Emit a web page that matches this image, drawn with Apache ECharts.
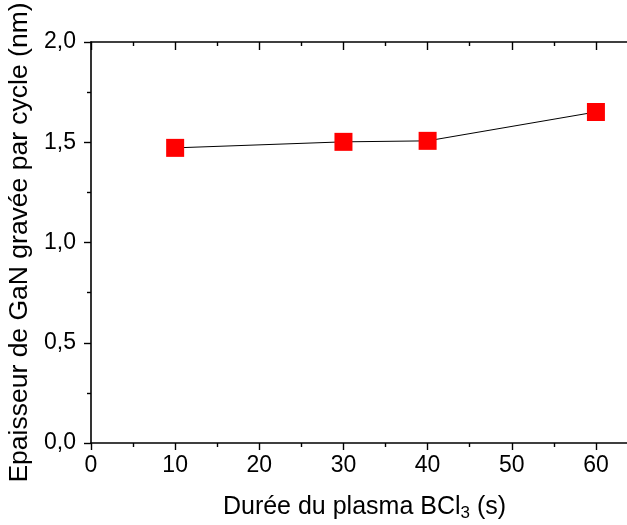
<!DOCTYPE html>
<html><head><meta charset="utf-8">
<script src="https://cdn.jsdelivr.net/npm/echarts@6/dist/echarts.min.js"></script>
<style>html,body{margin:0;padding:0;background:#fff}#c{width:627px;height:525px}</style>
</head><body><div id="c"></div>
<script>
const durations = [10, 30, 40, 60];
const thickness = [1.472, 1.502, 1.507, 1.651];
const xTicks = [0, 10, 20, 30, 40, 50, 60];
const yTicks = ['0,0', '0,5', '1,0', '1,5', '2,0'];

const chart = echarts.init(document.getElementById('c'), null, {renderer: 'canvas'});
const font = 'Liberation Sans, Arial, sans-serif';
const axisLine = {show: true, lineStyle: {color: '#000', width: 1.6}};
chart.setOption({
  animation: false,
  backgroundColor: '#fff',
  grid: {left: 91, width: 547, top: 42, height: 401, containLabel: false, outerBoundsMode: 'none'},
  xAxis: [{
    type: 'value', min: 0, max: 65, interval: 10, position: 'bottom',
    axisLine: axisLine,
    axisTick: {show: true, inside: false, length: 7, lineStyle: {color: '#000', width: 1.4}},
    minorTick: {show: true, splitNumber: 2, length: 4, lineStyle: {color: '#000', width: 1.4}},
    splitLine: {show: false},
    axisLabel: {color: '#000', fontSize: 23, fontFamily: font, margin: 11,
      formatter: v => xTicks.includes(v) ? String(v) : ''},
    name: 'Durée du plasma BCl{sub|3} (s)',
    nameLocation: 'middle', nameGap: 50,
    nameTextStyle: {color: '#000', fontSize: 25, fontFamily: font,
      rich: {sub: {fontSize: 17, fontFamily: font, color: '#000', padding: [12, 0, 0, 0]}}}
  }, {
    type: 'value', min: 0, max: 65, interval: 10, position: 'top',
    axisLine: axisLine,
    axisTick: {show: true, inside: true, length: 8, lineStyle: {color: '#000', width: 1.4}},
    minorTick: {show: true, splitNumber: 2, length: 4, lineStyle: {color: '#000', width: 1.4}},
    splitLine: {show: false},
    axisLabel: {show: false}
  }],
  yAxis: [{
    type: 'value', min: 0, max: 2, interval: 0.5, position: 'left',
    axisLine: axisLine,
    axisTick: {show: true, inside: false, length: 7, lineStyle: {color: '#000', width: 1.4}},
    minorTick: {show: true, splitNumber: 2, length: 4, lineStyle: {color: '#000', width: 1.4}},
    splitLine: {show: false},
    axisLabel: {color: '#000', fontSize: 23, fontFamily: font, margin: 15,
      formatter: v => yTicks[Math.round(v / 0.5)]},
    name: 'Epaisseur de GaN gravée par cycle (nm)',
    nameLocation: 'middle', nameGap: 56,
    nameTextStyle: {color: '#000', fontSize: 26.5, fontFamily: font}
  }],
  series: [{
    type: 'line',
    data: durations.map((d, i) => [d, thickness[i]]),
    symbol: 'rect', symbolSize: 18,
    itemStyle: {color: '#ff0000'},
    lineStyle: {color: '#000', width: 1},
    z: 3
  }]
});
</script></body></html>
